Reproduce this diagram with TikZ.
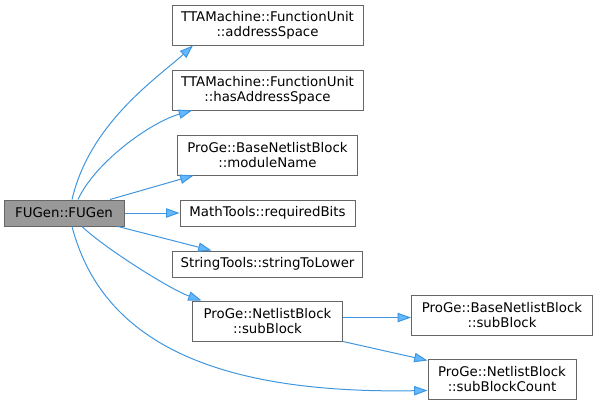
\documentclass[tikz,border=0pt]{standalone}
\usepackage{fontspec}
\setsansfont{DejaVu Sans}
\usetikzlibrary{arrows.meta,positioning}
\definecolor{frame}{HTML}{666666}
\definecolor{shade}{HTML}{999999}
\definecolor{paper}{HTML}{FFFFFF}
\definecolor{wire}{HTML}{4096DE}
\definecolor{tipblue}{HTML}{63B8FF}
\tikzset{
  base/.style={font=\sffamily\fontsize{10}{11.5}\selectfont,align=center,draw=frame,line width=0.75pt,fill=paper,inner xsep=2pt,inner ysep=2pt},
  callee/.style={base,minimum height=30pt},
  single/.style={base,minimum height=19.5pt},
  caller/.style={single,fill=shade},
  call/.style={-{Triangle[length=10pt,width=7pt,fill=tipblue]},draw=wire,line width=0.75pt}
}
\begin{document}
\begin{tikzpicture}[x=0.75pt,y=-0.75pt,node distance=18pt]
\useasboundingbox (0,0) rectangle (596,400);
% middle column, top to bottom
\node[callee,minimum width=143.25pt] (addr) at (267.5,25) {TTAMachine::FunctionUnit\\::addressSpace};
\node[callee,minimum width=143.25pt,below=of addr] (has) {TTAMachine::FunctionUnit\\::hasAddressSpace};
\node[callee,minimum width=135pt,below=of has] (modname) {ProGe::BaseNetlistBlock\\::moduleName};
\node[single,minimum width=131.25pt,below=of modname] (bits) {MathTools::requiredBits};
\node[single,minimum width=142.5pt,below=of bits] (lower) {StringTools::stringToLower};
\node[callee,minimum width=112.5pt,below=17.25pt of lower] (sub) {ProGe::NetlistBlock\\::subBlock};
% caller and right column
\node[caller,minimum width=90pt,left=41.25pt of bits] (fugen) {FUGen::FUGen};
\node[callee,minimum width=135.75pt,right=51pt of sub,yshift=4.5pt] (basesub) {ProGe::BaseNetlistBlock\\::subBlock};
\node[callee,minimum width=111pt,below=17.25pt of basesub] (count) {ProGe::NetlistBlock\\::subBlockCount};

\draw[call] ([xshift=6pt]fugen.north) .. controls +(18,-77) and +(-35,32) .. ([xshift=-55.9pt]addr.south);
\draw[call] ([xshift=10.5pt]fugen.north) .. controls +(17,-37) and +(-42,12) .. ([xshift=-56.6pt]has.south);
\draw[call] ([xshift=34.5pt]fugen.north) -- ([xshift=-55.5pt]modname.south);
\draw[call] (fugen) -- (bits);
\draw[call] ([xshift=40.5pt]fugen.south) -- ([xshift=-42pt]lower.north);
\draw[call] ([xshift=13.5pt]fugen.south) .. controls +(23,22) and +(-31,-11) .. ([xshift=-49.5pt]sub.north);
\draw[call] ([xshift=6pt]fugen.south) .. controls +(28,107) and +(-227,4) .. ([yshift=-8.6pt]count.west);
\draw[call] ([yshift=2.6pt]sub.east) -- ([yshift=-1.9pt]basesub.west);
\draw[call] (sub.south east) -- ([yshift=-1.5pt]count.north west);
\end{tikzpicture}
\end{document}
